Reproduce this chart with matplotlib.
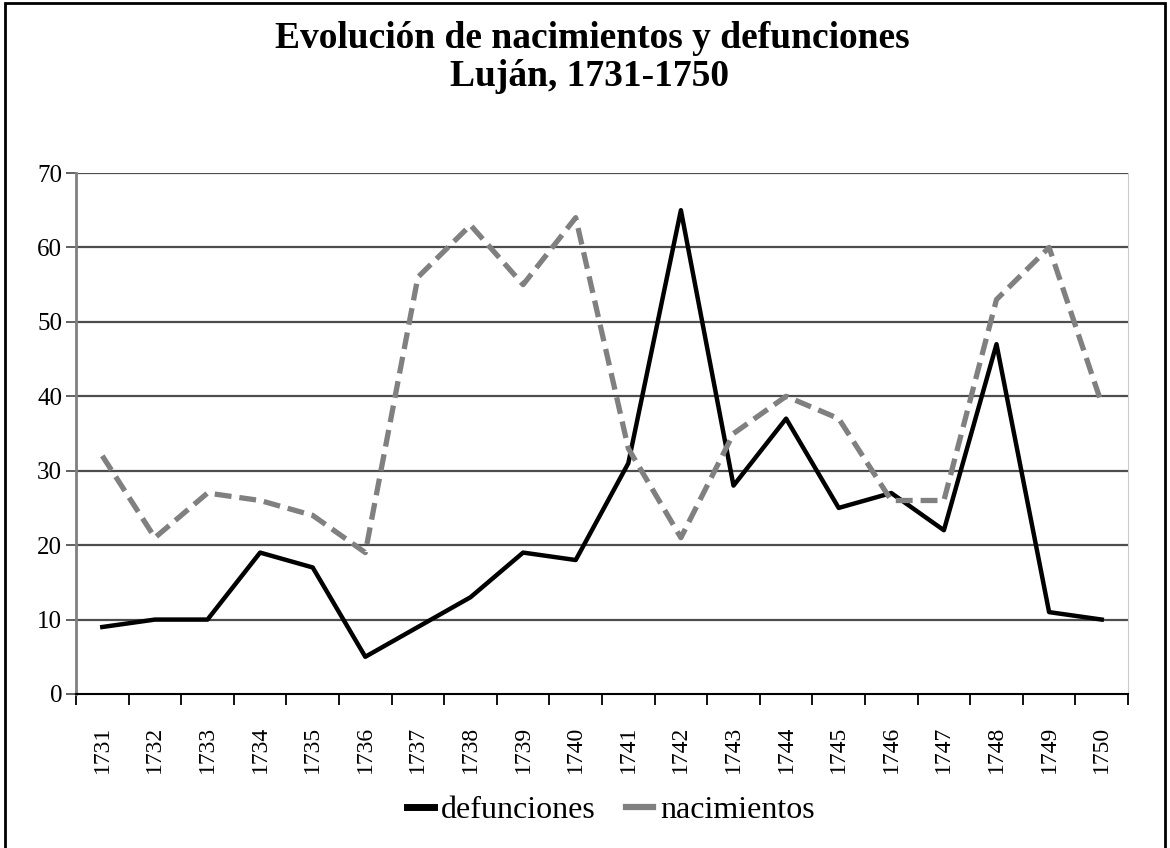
import matplotlib
matplotlib.use("Agg")
import matplotlib.pyplot as plt
import numpy as np
from matplotlib.patches import Rectangle

years = [str(y) for y in range(1731, 1751)]
defunciones = [9, 10, 10, 19, 17, 5, 9, 13, 19, 18, 31, 65, 28, 37, 25, 27, 22, 47, 11, 10]
nacimientos = [32, 21, 27, 26, 24, 19, 56, 63, 55, 64, 33, 21, 35, 40, 37, 26, 26, 53, 60, 39]
yticks = [0, 10, 20, 30, 40, 50, 60, 70]

plt.rcParams['font.family'] = ['Liberation Serif', 'DejaVu Serif']

fig = plt.figure(figsize=(11.7, 8.48), dpi=100)
ax = fig.add_axes([76/1170, 1-694/848, (1128-76)/1170, (694-173)/848])

x = np.arange(len(years))
ax.plot(x, defunciones, color='black', lw=3.2, label='defunciones', zorder=3)
ax.plot(x, nacimientos, color='#808080', lw=3.8, ls=(0, (3.2, 1.5)), label='nacimientos', zorder=3)

ax.set_xlim(-0.5, len(years)-0.5)
ax.set_ylim(0, 70)
ax.set_yticks(yticks)
ax.set_yticklabels([str(v) for v in yticks], fontsize=18)
for v in yticks[1:]:
    ax.axhline(v, color='#4d4d4d', lw=1.6, zorder=1)

ax.set_xticks(x)
ax.set_xticklabels(years, rotation=90, fontsize=17)
ax.tick_params(axis='x', which='major', length=0, pad=23)
ax.set_xticks(np.arange(-0.5, len(years)), minor=True)
ax.tick_params(axis='x', which='minor', length=8, width=1.3, color='black', direction='out')
ax.tick_params(axis='y', length=7, width=1.3, color='#555555', direction='out', pad=3)

ax.spines['top'].set_visible(False)
ax.spines['right'].set_color('#cccccc')
ax.spines['left'].set_color('#808080')
ax.spines['left'].set_linewidth(2)
ax.spines['bottom'].set_color('black')
ax.spines['bottom'].set_linewidth(1.5)

fig.text(592/1170, 1-38/848, 'Evolución de nacimientos y defunciones', ha='center', va='center',
         fontsize=27, fontweight='bold')
fig.text(589/1170, 1-76/848, 'Luján, 1731-1750', ha='center', va='center',
         fontsize=27, fontweight='bold')

leg = fig.legend(loc='center', bbox_to_anchor=(611/1170, 1-810/848), ncol=2, frameon=False,
                 fontsize=23, handlelength=0.85, handletextpad=0.22, columnspacing=0.95,
                 borderpad=0, borderaxespad=0)
lws = [5, 4.5]
for h, w in zip(leg.legend_handles, lws):
    h.set_linestyle('-')
    h.set_linewidth(w)

fig.patches.append(Rectangle((5/1170, -0.01), 1-10/1170, 1.01-3/848, transform=fig.transFigure,
                             fill=False, edgecolor='black', lw=2))

fig.savefig('out.png', dpi=100)
